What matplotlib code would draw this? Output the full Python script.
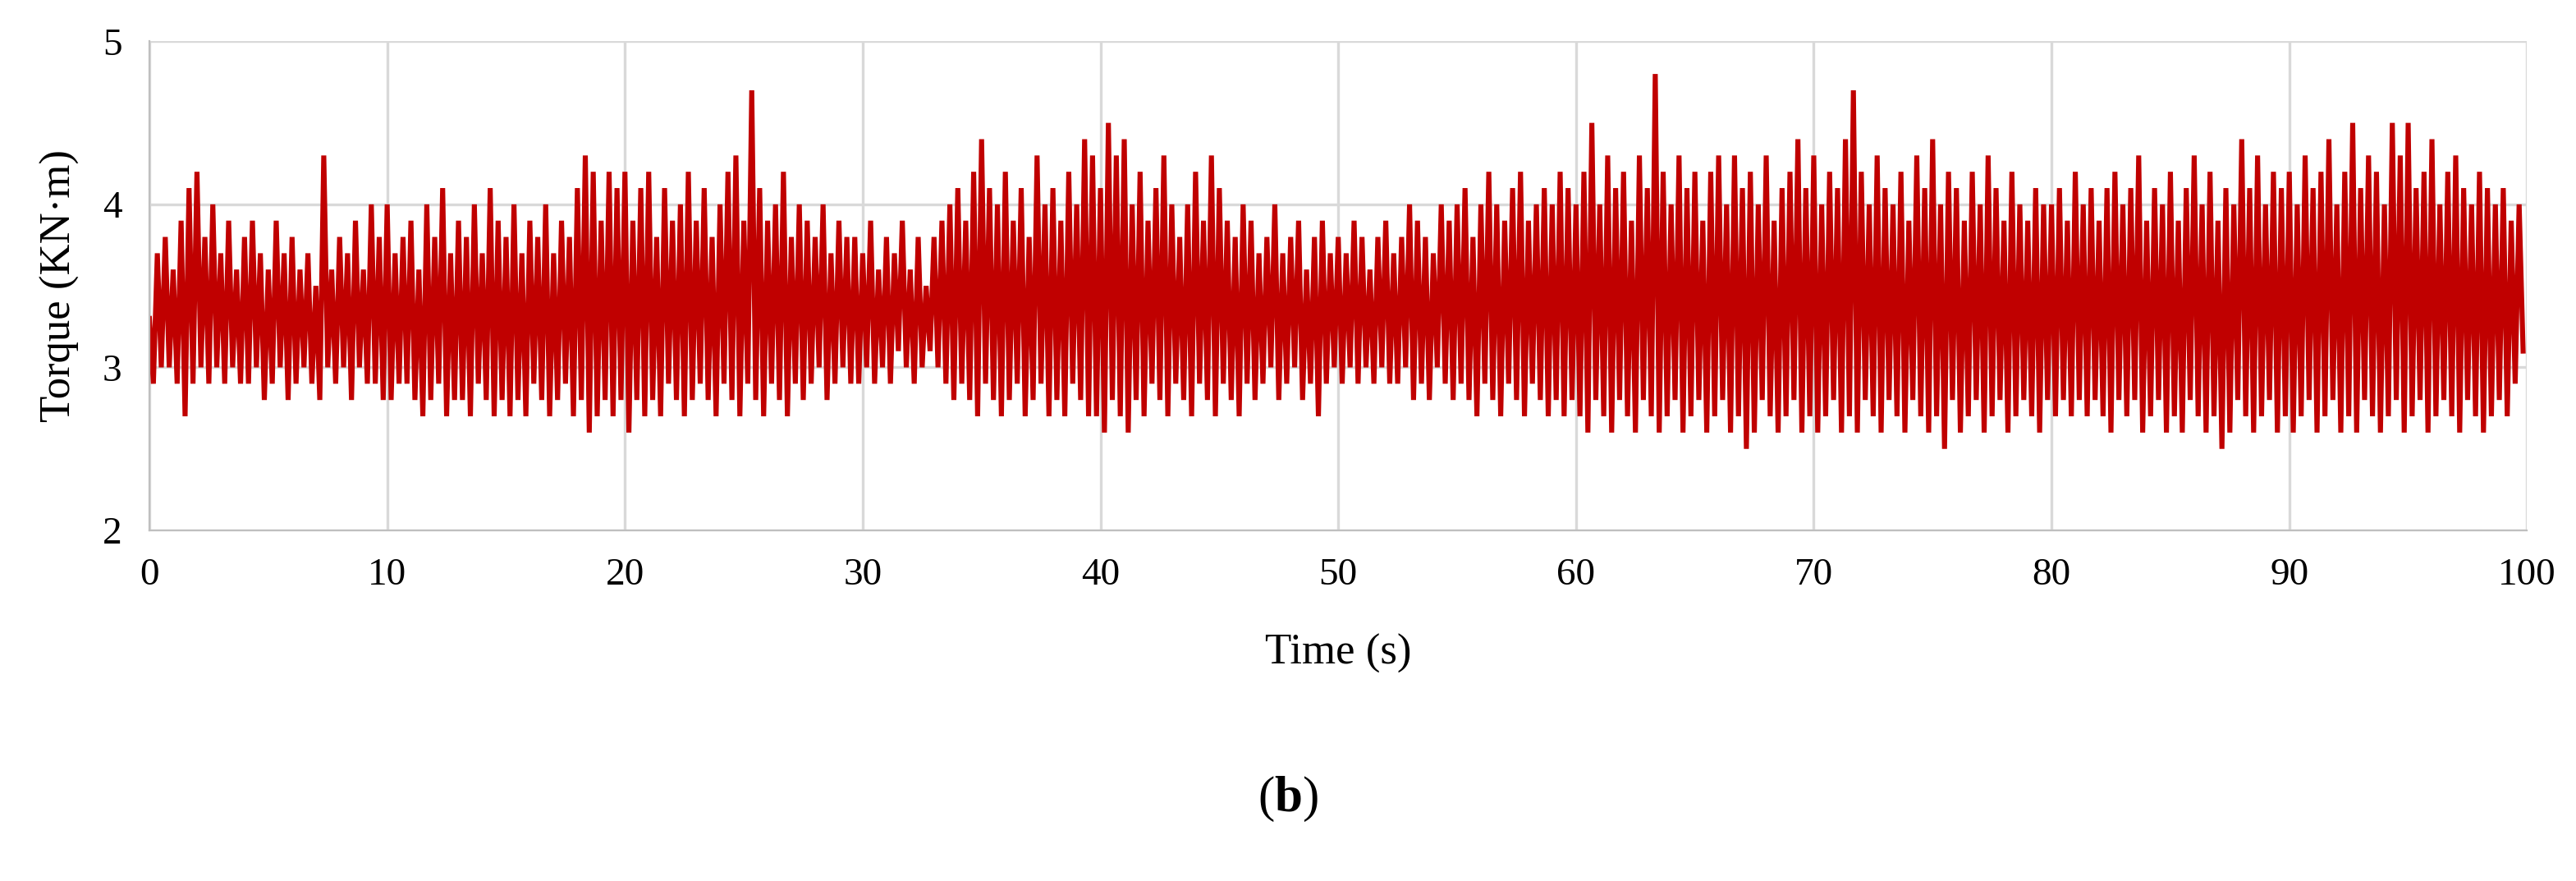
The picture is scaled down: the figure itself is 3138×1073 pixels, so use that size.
import numpy as np
import matplotlib.pyplot as plt

# Estimated upper spikes (3 per second) and lower dips
peaks = [
    3.3,3.7,3.8,3.6,3.9,4.1,4.2,3.8,4.0,3.7,3.9,3.6,3.8,3.9,3.7,3.6,3.9,3.7,3.8,3.6,3.7,3.5,4.3,3.6,3.8,3.7,3.9,3.6,4.0,3.8,
    4.0,3.7,3.8,3.9,3.6,4.0,3.8,4.1,3.7,3.9,3.8,4.0,3.7,4.1,3.9,3.8,4.0,3.7,3.9,3.8,4.0,3.7,3.9,3.8,4.1,4.3,4.2,3.9,4.2,4.1,
    4.2,3.9,4.1,4.2,3.8,4.1,3.9,4.0,4.2,3.9,4.1,3.8,4.0,4.2,4.3,3.9,4.7,4.1,3.9,4.0,4.2,3.8,4.0,3.9,3.8,4.0,3.7,3.9,3.8,3.8,
    3.7,3.9,3.6,3.8,3.7,3.9,3.6,3.8,3.5,3.8,3.9,4.0,4.1,3.9,4.2,4.4,4.1,4.0,4.2,3.9,4.1,3.8,4.3,4.0,4.1,3.9,4.2,4.0,4.4,4.3,
    4.1,4.5,4.3,4.4,4.0,4.2,3.9,4.1,4.3,4.0,3.8,4.0,4.2,3.9,4.3,4.1,3.9,3.8,4.0,3.9,3.7,3.8,4.0,3.7,3.8,3.9,3.6,3.8,3.9,3.7,
    3.8,3.7,3.9,3.8,3.6,3.8,3.9,3.7,3.8,4.0,3.9,3.8,3.7,4.0,3.9,4.0,4.1,3.8,4.0,4.2,4.0,3.9,4.1,4.2,3.9,4.0,4.1,4.0,4.2,4.1,
    4.0,4.2,4.5,4.0,4.3,4.1,4.2,3.9,4.3,4.1,4.8,4.2,4.0,4.3,4.1,4.2,3.9,4.2,4.3,4.0,4.3,4.1,4.2,4.0,4.3,3.9,4.1,4.2,4.4,4.1,
    4.3,4.0,4.2,4.1,4.4,4.7,4.2,4.0,4.3,4.1,4.0,4.2,3.9,4.3,4.1,4.4,4.0,4.2,4.1,3.9,4.2,4.0,4.3,4.1,3.9,4.2,4.0,3.9,4.1,4.0,
    4.0,4.1,3.9,4.2,4.0,4.1,3.9,4.1,4.2,4.0,4.1,4.3,3.9,4.1,4.0,4.2,3.9,4.1,4.3,4.0,4.2,3.9,4.1,4.0,4.4,4.1,4.3,4.0,4.2,4.1,
    4.2,4.0,4.3,4.1,4.2,4.4,4.0,4.2,4.5,4.1,4.3,4.2,4.0,4.5,4.3,4.5,4.1,4.2,4.4,4.0,4.2,4.3,4.1,4.0,4.2,4.1,4.0,4.1,3.9,4.0,
]
dips = [
    2.9,3.0,3.0,2.9,2.7,2.9,3.0,2.9,3.0,2.9,3.0,2.9,2.9,3.0,2.8,2.9,3.0,2.8,2.9,3.0,2.9,2.8,3.0,2.9,3.0,2.8,3.0,2.9,2.9,2.8,
    2.8,2.9,2.9,2.8,2.7,2.8,2.9,2.7,2.8,2.8,2.7,2.9,2.8,2.7,2.8,2.7,2.8,2.7,2.9,2.8,2.7,2.8,2.9,2.7,2.8,2.6,2.7,2.8,2.7,2.8,
    2.6,2.8,2.7,2.8,2.7,2.9,2.8,2.7,2.8,2.9,2.8,2.7,2.9,2.8,2.7,2.9,2.8,2.7,2.9,2.8,2.7,2.9,2.8,2.9,3.0,2.8,2.9,3.0,2.9,2.9,
    3.0,2.9,3.0,2.9,3.1,3.0,2.9,3.0,3.1,3.0,2.9,2.8,2.9,2.8,2.7,2.9,2.8,2.7,2.8,2.9,2.7,2.8,2.9,2.7,2.8,2.7,2.9,2.8,2.7,2.7,
    2.6,2.8,2.7,2.6,2.8,2.7,2.9,2.8,2.7,2.9,2.8,2.7,2.9,2.8,2.7,2.9,2.8,2.7,2.9,2.8,2.9,3.0,2.8,2.9,3.0,2.8,2.9,2.7,2.9,3.0,
    2.9,3.0,2.9,3.0,2.9,3.0,2.9,2.9,3.0,2.8,2.9,2.8,3.0,2.9,2.8,2.9,2.8,2.7,2.9,2.8,2.7,2.9,2.8,2.7,2.9,2.8,2.7,2.8,2.7,2.8,
    2.7,2.6,2.8,2.7,2.6,2.8,2.7,2.6,2.8,2.7,2.6,2.7,2.8,2.6,2.7,2.8,2.6,2.7,2.8,2.6,2.7,2.5,2.6,2.8,2.7,2.6,2.7,2.8,2.6,2.7,
    2.6,2.7,2.8,2.6,2.7,2.6,2.8,2.7,2.6,2.8,2.7,2.6,2.8,2.7,2.6,2.7,2.5,2.8,2.6,2.7,2.8,2.6,2.7,2.8,2.6,2.7,2.8,2.7,2.6,2.8,
    2.7,2.8,2.7,2.8,2.7,2.8,2.7,2.6,2.8,2.7,2.8,2.6,2.7,2.8,2.6,2.7,2.6,2.8,2.7,2.6,2.7,2.5,2.6,2.8,2.7,2.6,2.7,2.8,2.6,2.7,
    2.6,2.7,2.8,2.6,2.7,2.8,2.6,2.7,2.6,2.8,2.7,2.6,2.7,2.8,2.6,2.7,2.8,2.6,2.7,2.8,2.7,2.6,2.8,2.7,2.6,2.7,2.8,2.7,2.9,3.1,
]

n = len(peaks)
t = np.empty(2 * n)
torque = np.empty(2 * n)
t[0::2] = np.arange(n) / 3.0
t[1::2] = np.arange(n) / 3.0 + 1 / 6.0
torque[0::2] = peaks
torque[1::2] = dips

plt.rcParams['font.family'] = ['Liberation Serif', 'DejaVu Serif']
plt.rcParams['mathtext.fontset'] = 'custom'
plt.rcParams['mathtext.rm'] = 'Liberation Serif'
plt.rcParams['mathtext.bf'] = 'Liberation Serif:bold'

fig = plt.figure(figsize=(15.69, 5.365), dpi=200)
ax = fig.add_axes([0.058, 0.398, 0.923, 0.555])
ax.plot(t, torque, color='#C00000', lw=2.2, solid_joinstyle='miter')

ax.set_xlim(0, 100)
ax.set_ylim(2, 5)
ax.set_xticks(range(0, 101, 10))
ax.set_yticks([2, 3, 4, 5])
ax.grid(True, color='#d9d9d9', lw=1.2)
ax.set_axisbelow(True)
ax.tick_params(length=0, labelsize=17, pad=12)
for s in ['top', 'right']:
    ax.spines[s].set_visible(False)
for s in ['left', 'bottom']:
    ax.spines[s].set_color('#bfbfbf')
ax.set_xlabel('Time (s)', fontsize=19, labelpad=18)
ax.set_ylabel('Torque (KN·m)', fontsize=19, labelpad=10)

fig.text(0.5, 0.093, r'($\mathbf{b}$)', ha='center', va='center', fontsize=22)

fig.savefig('out.png', dpi=200, facecolor='white')
